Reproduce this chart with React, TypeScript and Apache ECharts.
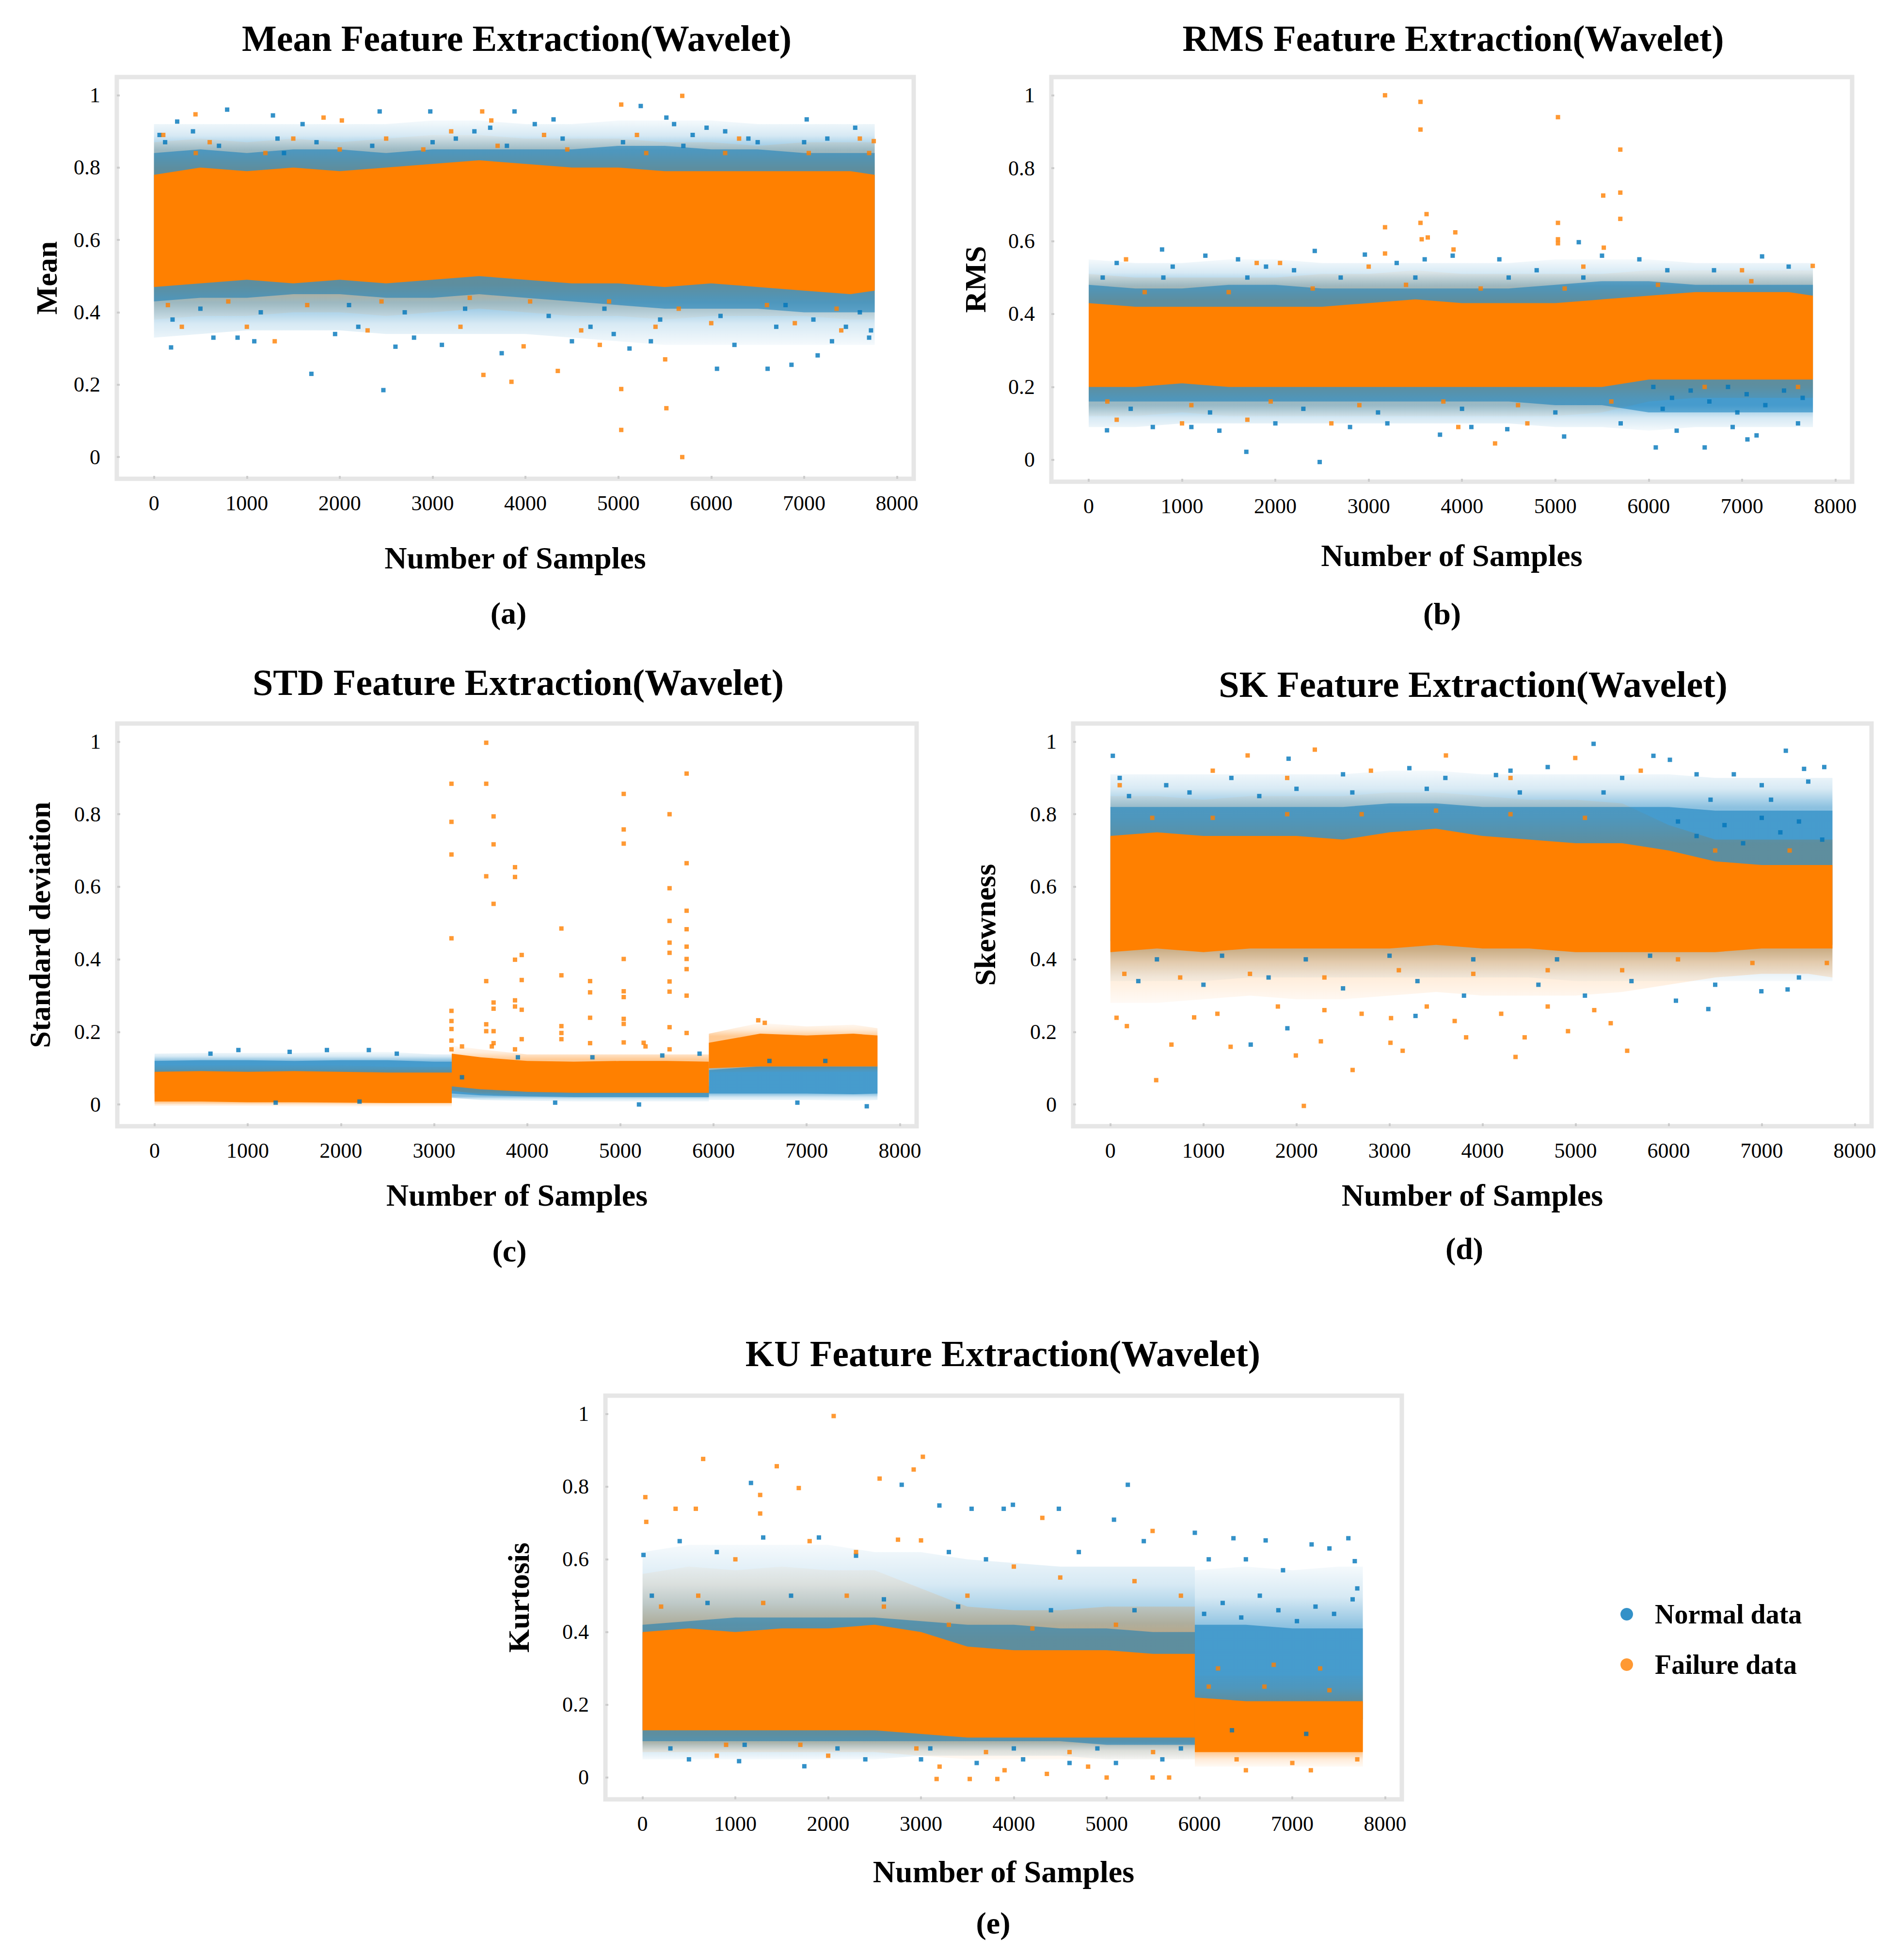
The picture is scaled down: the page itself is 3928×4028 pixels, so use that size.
import React, { useEffect, useRef } from "react";
import * as echarts from "echarts";

const BLUE_RGB = "0,118,186";
const ORANGE_RGB = "255,128,0";
const BLUE = `rgb(${BLUE_RGB})`;
const ORANGE = `rgb(${ORANGE_RGB})`;
const FONT = '"Liberation Serif", "Times New Roman", serif';

const xTickValues = [0, 1000, 2000, 3000, 4000, 5000, 6000, 7000, 8000];
const yTickValues = [0, 0.2, 0.4, 0.6, 0.8, 1];
const seriesNames = ["Normal data", "Failure data"];
const panelTitles = [
  "Mean Feature Extraction(Wavelet)",
  "RMS Feature Extraction(Wavelet)",
  "STD Feature Extraction(Wavelet)",
  "SK Feature Extraction(Wavelet)",
  "KU Feature Extraction(Wavelet)",
];
const yNames = ["Mean", "RMS", "Standard deviation", "Skewness", "Kurtosis"];
const panelLabels = ["(a)", "(b)", "(c)", "(d)", "(e)"];
const xName = "Number of Samples";

// ---------- (a) Mean ----------
const meanX = [0, 500, 1000, 1500, 2000, 2500, 3000, 3500, 4000, 4500, 5000, 5500, 6000, 6500, 7000, 7500, 7760];
const meanRegimes = [[0, 16]];
const meanOrangeCoreHi = [0.78, 0.8, 0.79, 0.8, 0.79, 0.8, 0.81, 0.82, 0.81, 0.8, 0.8, 0.79, 0.79, 0.79, 0.79, 0.79, 0.78];
const meanOrangeCoreLo = [0.47, 0.48, 0.49, 0.48, 0.49, 0.48, 0.49, 0.5, 0.49, 0.48, 0.48, 0.47, 0.48, 0.47, 0.46, 0.45, 0.46];
const meanOrangeHaloHi = [0.87, 0.88, 0.87, 0.88, 0.87, 0.88, 0.89, 0.89, 0.88, 0.88, 0.88, 0.87, 0.87, 0.86, 0.87, 0.87, 0.87];
const meanOrangeHaloLo = [0.38, 0.39, 0.39, 0.4, 0.4, 0.39, 0.4, 0.41, 0.4, 0.39, 0.39, 0.38, 0.39, 0.39, 0.39, 0.38, 0.38];
const meanBlueCoreHi = [0.84, 0.85, 0.84, 0.85, 0.85, 0.84, 0.85, 0.85, 0.85, 0.85, 0.86, 0.86, 0.85, 0.85, 0.84, 0.84, 0.84];
const meanBlueCoreLo = [0.43, 0.44, 0.44, 0.45, 0.45, 0.44, 0.44, 0.45, 0.44, 0.43, 0.42, 0.41, 0.41, 0.41, 0.4, 0.4, 0.4];
const meanBlueHaloHi = [0.92, 0.92, 0.92, 0.92, 0.92, 0.92, 0.93, 0.93, 0.92, 0.92, 0.93, 0.93, 0.93, 0.92, 0.92, 0.92, 0.92];
const meanBlueHaloLo = [0.33, 0.34, 0.35, 0.35, 0.35, 0.34, 0.34, 0.34, 0.34, 0.33, 0.32, 0.31, 0.31, 0.31, 0.31, 0.31, 0.31];
const meanBluePoints = [
  [788, 0.96], [1695, 0.23], [2470, 0.185], [5241, 0.97], [2975, 0.955], [2430, 0.955], [3882, 0.955], [6062, 0.244],
  [6607, 0.244], [6864, 0.255], [7146, 0.281], [7028, 0.933], [5517, 0.938], [250, 0.927], [1281, 0.944], [4302, 0.933],
  [184, 0.303], [3744, 0.287], [60, 0.89], [120, 0.87], [420, 0.9], [640, 0.33], [900, 0.33], [1080, 0.32], [1330, 0.88],
  [1600, 0.92], [1950, 0.34], [2200, 0.36], [2600, 0.305], [2800, 0.33], [3100, 0.31], [3250, 0.88], [3450, 0.9],
  [3620, 0.91], [4100, 0.92], [4500, 0.32], [4700, 0.36], [4950, 0.34], [5120, 0.3], [5350, 0.32], [5600, 0.92],
  [5800, 0.89], [5950, 0.91], [6150, 0.9], [6250, 0.31], [6400, 0.88], [6700, 0.36], [7000, 0.87], [7300, 0.32],
  [7450, 0.36], [7550, 0.91], [7700, 0.33], [7720, 0.35], [200, 0.38], [500, 0.41], [700, 0.86], [1150, 0.4],
  [1400, 0.84], [1750, 0.87], [2100, 0.42], [2350, 0.86], [2700, 0.4], [3000, 0.87], [3350, 0.41], [3800, 0.86],
  [4250, 0.39], [4400, 0.88], [4850, 0.41], [5050, 0.87], [5450, 0.38], [5700, 0.86], [6100, 0.39], [6500, 0.87],
  [6800, 0.42], [7100, 0.38], [7250, 0.88], [7600, 0.4],
];
const meanOrangePoints = [
  [5031, 0.188], [5031, 0.075], [5517, 0.135], [5688, 0.0], [5688, 0.998], [5031, 0.974], [3547, 0.227], [3849, 0.208],
  [4348, 0.238], [5504, 0.27], [447, 0.947], [1826, 0.938], [2023, 0.93], [3534, 0.955], [3632, 0.93], [7750, 0.873],
  [3980, 0.306], [100, 0.89], [300, 0.36], [600, 0.87], [1000, 0.36], [1300, 0.32], [1500, 0.88], [2300, 0.35],
  [2500, 0.88], [3200, 0.9], [3300, 0.36], [4200, 0.89], [4600, 0.35], [4800, 0.31], [5200, 0.89], [5400, 0.36],
  [6000, 0.37], [6300, 0.88], [6900, 0.37], [7400, 0.35], [7600, 0.88], [150, 0.42], [450, 0.84], [800, 0.43],
  [1200, 0.84], [1650, 0.42], [2000, 0.85], [2450, 0.43], [2900, 0.85], [3400, 0.44], [3700, 0.86], [4050, 0.43],
  [4450, 0.85], [4900, 0.43], [5300, 0.84], [5650, 0.41], [6150, 0.84], [6600, 0.42], [7050, 0.84], [7350, 0.41],
  [7700, 0.84],
];

// ---------- (b) RMS ----------
const rmsX = [0, 500, 1000, 1500, 2000, 2500, 3000, 3500, 4000, 4500, 5000, 5500, 6000, 6500, 7000, 7500, 7760];
const rmsRegimes = [[0, 16]];
const rmsOrangeCoreHi = [0.43, 0.42, 0.42, 0.42, 0.42, 0.42, 0.43, 0.44, 0.43, 0.43, 0.43, 0.44, 0.45, 0.46, 0.46, 0.46, 0.45];
const rmsOrangeCoreLo = [0.2, 0.2, 0.21, 0.2, 0.2, 0.2, 0.2, 0.2, 0.2, 0.2, 0.2, 0.2, 0.22, 0.22, 0.22, 0.22, 0.22];
const rmsOrangeHaloHi = [0.51, 0.5, 0.5, 0.5, 0.5, 0.51, 0.51, 0.52, 0.51, 0.51, 0.51, 0.51, 0.52, 0.52, 0.52, 0.52, 0.52];
const rmsOrangeHaloLo = [0.12, 0.12, 0.13, 0.12, 0.12, 0.12, 0.12, 0.12, 0.12, 0.12, 0.12, 0.13, 0.16, 0.17, 0.17, 0.17, 0.17];
const rmsBlueCoreHi = [0.48, 0.47, 0.47, 0.48, 0.48, 0.47, 0.47, 0.47, 0.47, 0.47, 0.48, 0.49, 0.49, 0.48, 0.48, 0.48, 0.48];
const rmsBlueCoreLo = [0.16, 0.16, 0.16, 0.16, 0.16, 0.16, 0.16, 0.16, 0.16, 0.16, 0.15, 0.15, 0.13, 0.13, 0.13, 0.13, 0.13];
const rmsBlueHaloHi = [0.55, 0.54, 0.54, 0.55, 0.55, 0.54, 0.54, 0.54, 0.54, 0.54, 0.55, 0.55, 0.55, 0.54, 0.54, 0.54, 0.54];
const rmsBlueHaloLo = [0.09, 0.09, 0.1, 0.1, 0.1, 0.1, 0.1, 0.1, 0.1, 0.1, 0.09, 0.09, 0.08, 0.09, 0.09, 0.09, 0.09];
const rmsBluePoints = [
  [1689, 0.022], [2475, -0.006], [6076, 0.034], [6600, 0.034], [7058, 0.056], [7156, 0.067], [3764, 0.069],
  [786, 0.577], [5251, 0.597], [7215, 0.558], [2959, 0.563], [2422, 0.573], [196, 0.081], [687, 0.09], [4485, 0.084],
  [5094, 0.064], [300, 0.54], [900, 0.53], [1250, 0.56], [1600, 0.55], [1900, 0.53], [2200, 0.52], [3300, 0.54],
  [3600, 0.55], [3900, 0.56], [4400, 0.55], [4800, 0.52], [5500, 0.56], [5900, 0.55], [6200, 0.52], [6700, 0.52],
  [7500, 0.53], [1100, 0.09], [1400, 0.08], [2000, 0.1], [2800, 0.09], [3200, 0.1], [4100, 0.09], [5700, 0.1],
  [6300, 0.08], [6900, 0.09], [7600, 0.1], [150, 0.5], [450, 0.14], [800, 0.5], [1300, 0.13], [1700, 0.5],
  [2300, 0.14], [2700, 0.5], [3100, 0.13], [3500, 0.5], [4000, 0.14], [4500, 0.5], [5000, 0.13], [5300, 0.5],
  [6050, 0.2], [6250, 0.17], [6450, 0.19], [6650, 0.16], [6850, 0.2], [7050, 0.18], [7250, 0.15], [7450, 0.19],
  [7650, 0.17], [6150, 0.14], [6950, 0.13],
];
const rmsOrangePoints = [
  [3175, 1.0], [3555, 0.982], [3555, 0.906], [3175, 0.638], [3555, 0.65], [3620, 0.674], [3568, 0.605], [3633, 0.61],
  [3928, 0.624], [3909, 0.577], [5028, 0.94], [5028, 0.65], [5028, 0.605], [5028, 0.594], [5513, 0.725], [5696, 0.851],
  [5696, 0.733], [5696, 0.661], [5519, 0.582], [4354, 0.045], [3175, 0.566], [7758, 0.532], [400, 0.55], [1800, 0.54],
  [2050, 0.54], [2600, 0.1], [3000, 0.53], [3960, 0.09], [4700, 0.1], [5300, 0.53], [7000, 0.52], [1000, 0.1],
  [1700, 0.11], [300, 0.11], [200, 0.16], [600, 0.46], [1100, 0.15], [1500, 0.46], [1950, 0.16], [2400, 0.47],
  [2900, 0.15], [3400, 0.48], [3800, 0.16], [4200, 0.47], [4600, 0.15], [5100, 0.47], [5600, 0.16], [6100, 0.48],
  [6600, 0.2], [7100, 0.49], [7600, 0.2],
];

// ---------- (c) STD ----------
const stdX = [0, 500, 1000, 1500, 2000, 2500, 3000, 3190, 3190, 3500, 4000, 4500, 5000, 5500, 5950, 5950, 6500, 7000, 7500, 7760];
const stdRegimes = [[0, 7], [8, 14], [15, 19]];
const stdOrangeCoreHi = [0.09, 0.092, 0.09, 0.092, 0.09, 0.088, 0.088, 0.088, 0.14, 0.13, 0.12, 0.118, 0.12, 0.12, 0.118, 0.17, 0.195, 0.19, 0.195, 0.19];
const stdOrangeCoreLo = [0.008, 0.008, 0.006, 0.006, 0.005, 0.004, 0.004, 0.004, 0.05, 0.042, 0.035, 0.032, 0.032, 0.032, 0.032, 0.1, 0.105, 0.105, 0.105, 0.105];
const stdOrangeHaloHi = [0.108, 0.108, 0.108, 0.108, 0.108, 0.104, 0.104, 0.104, 0.162, 0.152, 0.138, 0.138, 0.138, 0.138, 0.138, 0.195, 0.225, 0.215, 0.22, 0.21];
const stdOrangeHaloLo = [-0.004, -0.004, -0.004, -0.006, -0.006, -0.006, -0.006, -0.006, 0.038, 0.028, 0.022, 0.02, 0.02, 0.02, 0.02, 0.088, 0.09, 0.09, 0.09, 0.09];
const stdBlueCoreHi = [0.12, 0.122, 0.122, 0.12, 0.122, 0.122, 0.118, 0.118, 0.07, 0.06, 0.055, 0.05, 0.05, 0.05, 0.05, 0.095, 0.105, 0.105, 0.105, 0.105];
const stdBlueCoreLo = [0.03, 0.03, 0.03, 0.03, 0.03, 0.03, 0.03, 0.03, 0.03, 0.025, 0.022, 0.02, 0.02, 0.02, 0.02, 0.03, 0.03, 0.03, 0.028, 0.03];
const stdBlueHaloHi = [0.14, 0.142, 0.142, 0.142, 0.145, 0.145, 0.138, 0.138, 0.082, 0.072, 0.066, 0.062, 0.062, 0.062, 0.062, 0.112, 0.122, 0.122, 0.122, 0.12];
const stdBlueHaloLo = [0.016, 0.016, 0.016, 0.016, 0.016, 0.016, 0.016, 0.016, 0.018, 0.012, 0.01, 0.008, 0.008, 0.008, 0.008, 0.012, 0.012, 0.012, 0.01, 0.012];
const stdBluePoints = [
  [7645, -0.005], [900, 0.15], [1850, 0.15], [2300, 0.15], [2600, 0.14], [1450, 0.145], [600, 0.14], [3300, 0.075],
  [3900, 0.13], [4700, 0.13], [5450, 0.135], [5850, 0.14], [6600, 0.12], [7200, 0.12], [1300, 0.005], [2200, 0.008],
  [4300, 0.005], [5200, 0.0], [6900, 0.005],
];
const stdOrangePoints = [
  [3187, 0.884], [3187, 0.779], [3187, 0.689], [3187, 0.458], [3187, 0.258], [3187, 0.23], [3187, 0.208], [3187, 0.176], [3187, 0.152],
  [3560, 0.997], [3560, 0.884], [3560, 0.629], [3560, 0.34], [3560, 0.221], [3560, 0.202],
  [3639, 0.794], [3639, 0.717], [3639, 0.553], [3639, 0.281], [3639, 0.264], [3639, 0.202], [3639, 0.169],
  [3869, 0.654], [3869, 0.627], [3869, 0.399], [3869, 0.287], [3869, 0.27], [3869, 0.152],
  [3941, 0.412], [3941, 0.343], [3941, 0.261], [3941, 0.18],
  [4367, 0.485], [4367, 0.356], [4367, 0.216], [4367, 0.197], [4367, 0.18],
  [4675, 0.34], [4675, 0.309], [4675, 0.239], [4675, 0.169],
  [5036, 0.856], [5036, 0.758], [5036, 0.719], [5036, 0.401], [5036, 0.312], [5036, 0.296], [5036, 0.236], [5036, 0.222], [5036, 0.171],
  [5528, 0.8], [5528, 0.596], [5528, 0.506], [5528, 0.446], [5528, 0.418], [5528, 0.339], [5528, 0.311], [5528, 0.213], [5528, 0.152],
  [5711, 0.912], [5711, 0.665], [5711, 0.534], [5711, 0.483], [5711, 0.435], [5711, 0.401], [5711, 0.373], [5711, 0.3], [5711, 0.197],
  [5250, 0.17], [5270, 0.16], [3300, 0.16], [3620, 0.16], [6480, 0.232], [6550, 0.225],
];

// ---------- (d) SK ----------
const skX = [0, 500, 1000, 1500, 2000, 2500, 3000, 3500, 4000, 4500, 5000, 5500, 6000, 6500, 7000, 7500, 7760];
const skRegimes = [[0, 16]];
const skOrangeCoreHi = [0.74, 0.75, 0.74, 0.74, 0.74, 0.73, 0.75, 0.76, 0.74, 0.73, 0.72, 0.72, 0.7, 0.67, 0.66, 0.66, 0.66];
const skOrangeCoreLo = [0.42, 0.43, 0.42, 0.43, 0.43, 0.43, 0.43, 0.44, 0.43, 0.43, 0.42, 0.42, 0.42, 0.42, 0.43, 0.43, 0.43];
const skOrangeHaloHi = [0.85, 0.85, 0.84, 0.85, 0.85, 0.85, 0.86, 0.86, 0.85, 0.84, 0.84, 0.83, 0.77, 0.73, 0.73, 0.73, 0.73];
const skOrangeHaloLo = [0.28, 0.28, 0.29, 0.3, 0.29, 0.29, 0.3, 0.31, 0.3, 0.3, 0.3, 0.31, 0.33, 0.35, 0.36, 0.36, 0.35];
const skBlueCoreHi = [0.82, 0.82, 0.82, 0.82, 0.82, 0.82, 0.83, 0.83, 0.82, 0.82, 0.82, 0.82, 0.82, 0.81, 0.81, 0.81, 0.81];
const skBlueCoreLo = [0.45, 0.45, 0.44, 0.45, 0.45, 0.45, 0.45, 0.45, 0.45, 0.45, 0.44, 0.44, 0.44, 0.44, 0.44, 0.44, 0.44];
const skBlueHaloHi = [0.91, 0.91, 0.91, 0.91, 0.91, 0.91, 0.92, 0.92, 0.91, 0.91, 0.91, 0.91, 0.91, 0.9, 0.9, 0.9, 0.9];
const skBlueHaloLo = [0.34, 0.34, 0.34, 0.35, 0.35, 0.35, 0.35, 0.35, 0.35, 0.35, 0.34, 0.34, 0.34, 0.34, 0.34, 0.34, 0.34];
const skBluePoints = [
  [26, 0.961], [1915, 0.953], [5193, 0.994], [7259, 0.975], [5836, 0.961], [6013, 0.95], [1902, 0.21], [1508, 0.165],
  [6996, 0.312], [7278, 0.317], [6426, 0.263], [6078, 0.286], [3279, 0.244], [4144, 0.908], [3213, 0.927], [7672, 0.93],
  [7455, 0.925], [100, 0.9], [600, 0.88], [1300, 0.9], [2000, 0.87], [2500, 0.91], [3600, 0.9], [4300, 0.92],
  [4700, 0.93], [5500, 0.9], [6300, 0.91], [6700, 0.91], [7000, 0.88], [7500, 0.89], [300, 0.34], [1000, 0.33],
  [1700, 0.35], [2500, 0.32], [3300, 0.34], [3800, 0.3], [4600, 0.33], [5100, 0.3], [5600, 0.34], [6500, 0.33],
  [7400, 0.35], [200, 0.85], [500, 0.4], [850, 0.86], [1200, 0.41], [1600, 0.85], [2100, 0.4], [2600, 0.86],
  [3000, 0.41], [3400, 0.87], [3900, 0.4], [4400, 0.86], [4800, 0.4], [5300, 0.86], [5800, 0.41], [6100, 0.78],
  [6300, 0.74], [6600, 0.77], [6800, 0.72], [7000, 0.79], [7200, 0.75], [7400, 0.78], [7650, 0.73], [6450, 0.84],
  [7100, 0.84],
];
const skOrangePoints = [
  [492, 0.067], [2079, -0.004], [2197, 0.978], [1475, 0.962], [3606, 0.962], [4996, 0.955], [2603, 0.095], [4354, 0.131],
  [5554, 0.148], [1993, 0.135], [3141, 0.148], [3010, 0.17], [656, 0.165], [1292, 0.159], [2262, 0.174], [66, 0.239],
  [177, 0.216], [5377, 0.224], [3823, 0.185], [4452, 0.185], [4918, 0.202], [3016, 0.238], [900, 0.24], [1150, 0.25],
  [1800, 0.27], [2300, 0.26], [2700, 0.25], [3400, 0.27], [3700, 0.23], [4200, 0.25], [4700, 0.27], [5200, 0.26],
  [100, 0.88], [1100, 0.92], [1900, 0.9], [2800, 0.92], [4300, 0.9], [5700, 0.92], [150, 0.36], [450, 0.79],
  [750, 0.35], [1100, 0.79], [1500, 0.36], [1900, 0.8], [2300, 0.35], [2700, 0.8], [3100, 0.37], [3500, 0.81],
  [3900, 0.36], [4300, 0.8], [4700, 0.37], [5100, 0.79], [5500, 0.37], [6100, 0.4], [6500, 0.7], [6900, 0.39],
  [7300, 0.7], [7700, 0.39],
];

// ---------- (e) KU ----------
const kuX = [0, 500, 1000, 1500, 2000, 2500, 3000, 3500, 4000, 4500, 5000, 5500, 5950, 5950, 6500, 7000, 7500, 7760];
const kuRegimes = [[0, 12], [13, 17]];
const kuOrangeCoreHi = [0.4, 0.41, 0.4, 0.41, 0.41, 0.42, 0.4, 0.36, 0.35, 0.35, 0.35, 0.34, 0.34, 0.22, 0.21, 0.21, 0.21, 0.21];
const kuOrangeCoreLo = [0.13, 0.13, 0.13, 0.13, 0.13, 0.13, 0.12, 0.11, 0.11, 0.11, 0.11, 0.11, 0.11, 0.07, 0.07, 0.07, 0.07, 0.07];
const kuOrangeHaloHi = [0.56, 0.58, 0.57, 0.58, 0.57, 0.57, 0.52, 0.47, 0.46, 0.46, 0.47, 0.47, 0.47, 0.28, 0.28, 0.28, 0.28, 0.28];
const kuOrangeHaloLo = [0.07, 0.07, 0.07, 0.07, 0.07, 0.07, 0.06, 0.05, 0.05, 0.05, 0.05, 0.05, 0.05, 0.03, 0.03, 0.03, 0.03, 0.03];
const kuBlueCoreHi = [0.42, 0.43, 0.44, 0.44, 0.44, 0.44, 0.43, 0.42, 0.42, 0.41, 0.41, 0.4, 0.4, 0.42, 0.42, 0.41, 0.41, 0.41];
const kuBlueCoreLo = [0.1, 0.1, 0.1, 0.1, 0.1, 0.1, 0.1, 0.1, 0.1, 0.1, 0.09, 0.09, 0.09, 0.15, 0.15, 0.16, 0.16, 0.16];
const kuBlueHaloHi = [0.62, 0.64, 0.64, 0.64, 0.64, 0.62, 0.62, 0.6, 0.59, 0.58, 0.58, 0.58, 0.58, 0.57, 0.58, 0.57, 0.58, 0.58];
const kuBlueHaloLo = [0.05, 0.05, 0.05, 0.05, 0.05, 0.05, 0.06, 0.06, 0.06, 0.06, 0.05, 0.05, 0.05, 0.09, 0.09, 0.09, 0.09, 0.09];
const kuBluePoints = [
  [1168, 0.81], [5228, 0.805], [2792, 0.805], [3198, 0.748], [3545, 0.739], [3891, 0.739], [3990, 0.75], [4485, 0.739],
  [5079, 0.709], [5950, 0.673], [6366, 0.658], [6713, 0.652], [7208, 0.641], [7604, 0.658], [7673, 0.595], [1040, 0.045],
  [1743, 0.031], [10, 0.612], [400, 0.65], [800, 0.62], [1300, 0.66], [1900, 0.66], [2300, 0.61], [3300, 0.62],
  [3700, 0.6], [4700, 0.62], [5400, 0.65], [6100, 0.6], [6500, 0.6], [6900, 0.57], [7400, 0.63], [7700, 0.52],
  [500, 0.05], [2400, 0.05], [3000, 0.05], [3600, 0.04], [4100, 0.05], [4600, 0.04], [5100, 0.04], [5600, 0.05],
  [100, 0.5], [300, 0.08], [700, 0.48], [1100, 0.09], [1600, 0.5], [2100, 0.08], [2600, 0.49], [3100, 0.08],
  [3400, 0.47], [4000, 0.08], [4400, 0.46], [4900, 0.08], [5300, 0.46], [5800, 0.08], [6050, 0.45], [6250, 0.48],
  [6450, 0.44], [6650, 0.5], [6850, 0.46], [7050, 0.43], [7250, 0.47], [7450, 0.45], [7650, 0.49], [6350, 0.13],
  [7150, 0.12],
];
const kuOrangePoints = [
  [2059, 0.994], [653, 0.876], [1446, 0.856], [3020, 0.882], [2921, 0.847], [2554, 0.822], [1683, 0.796], [30, 0.771],
  [1267, 0.777], [40, 0.703], [356, 0.739], [574, 0.739], [1267, 0.726], [4307, 0.714], [5495, 0.678], [3168, -0.004],
  [3525, -0.004], [3822, -0.004], [5000, 0.0], [5495, 0.0], [5673, 0.0], [4356, 0.01], [2752, 0.654], [3000, 0.652],
  [1000, 0.6], [1800, 0.65], [2300, 0.62], [3500, 0.5], [4000, 0.58], [4500, 0.55], [5300, 0.54], [5800, 0.5],
  [6200, 0.3], [6800, 0.31], [7300, 0.3], [800, 0.06], [2000, 0.06], [3200, 0.03], [3900, 0.02], [4800, 0.03],
  [6500, 0.02], [7200, 0.02], [200, 0.47], [600, 0.5], [900, 0.09], [1300, 0.48], [1700, 0.09], [2200, 0.5],
  [2600, 0.47], [2950, 0.08], [3300, 0.42], [3700, 0.07], [4200, 0.41], [4600, 0.07], [5100, 0.42], [5500, 0.07],
  [6100, 0.25], [6400, 0.05], [6700, 0.25], [7000, 0.04], [7400, 0.24], [7700, 0.05],
];

const panelData = [
  { x: meanX, reg: meanRegimes, oc: [meanOrangeCoreLo, meanOrangeCoreHi], oh: [meanOrangeHaloLo, meanOrangeHaloHi], bc: [meanBlueCoreLo, meanBlueCoreHi], bh: [meanBlueHaloLo, meanBlueHaloHi], bp: meanBluePoints, op: meanOrangePoints },
  { x: rmsX, reg: rmsRegimes, oc: [rmsOrangeCoreLo, rmsOrangeCoreHi], oh: [rmsOrangeHaloLo, rmsOrangeHaloHi], bc: [rmsBlueCoreLo, rmsBlueCoreHi], bh: [rmsBlueHaloLo, rmsBlueHaloHi], bp: rmsBluePoints, op: rmsOrangePoints },
  { x: stdX, reg: stdRegimes, oc: [stdOrangeCoreLo, stdOrangeCoreHi], oh: [stdOrangeHaloLo, stdOrangeHaloHi], bc: [stdBlueCoreLo, stdBlueCoreHi], bh: [stdBlueHaloLo, stdBlueHaloHi], bp: stdBluePoints, op: stdOrangePoints },
  { x: skX, reg: skRegimes, oc: [skOrangeCoreLo, skOrangeCoreHi], oh: [skOrangeHaloLo, skOrangeHaloHi], bc: [skBlueCoreLo, skBlueCoreHi], bh: [skBlueHaloLo, skBlueHaloHi], bp: skBluePoints, op: skOrangePoints },
  { x: kuX, reg: kuRegimes, oc: [kuOrangeCoreLo, kuOrangeCoreHi], oh: [kuOrangeHaloLo, kuOrangeHaloHi], bc: [kuBlueCoreLo, kuBlueCoreHi], bh: [kuBlueHaloLo, kuBlueHaloHi], bp: kuBluePoints, op: kuOrangePoints },
];

// layout (pixels)
const layouts = [
  { grid: { left: 241, top: 159, width: 1644, height: 829 }, title: [1061, 80], label: [1049, 1265], yGap: 114, xGap: 131 },
  { grid: { left: 2169, top: 159, width: 1652, height: 835 }, title: [2993, 80], label: [2975, 1266], yGap: 126, xGap: 120 },
  { grid: { left: 242, top: 1493, width: 1649, height: 831 }, title: [1064, 1409], label: [1051, 2581], yGap: 129, xGap: 110 },
  { grid: { left: 2214, top: 1493, width: 1647, height: 831 }, title: [3034, 1413], label: [3021, 2576], yGap: 151, xGap: 110 },
  { grid: { left: 1249, top: 2880, width: 1643, height: 833 }, title: [2064, 2794], label: [2049, 3968], yGap: 148, xGap: 117 },
];

const avg = (a: number[]) => a.reduce((s, v) => s + v, 0) / a.length;
const clamp01 = (v: number) => Math.max(0, Math.min(1, v));

// density fade: transparent at the outer edge, peak alpha where the dense core starts
function haloFill(rgb: string, top: number, bottom: number, coreTop: number, coreBot: number, peak: number) {
  const span = top - bottom;
  const t1 = clamp01((top - coreTop) / span);
  const t2 = clamp01(Math.max(t1, (top - coreBot) / span));
  const edge = 0.04;
  return new echarts.graphic.LinearGradient(0, 0, 0, 1, [
    { offset: 0, color: `rgba(${rgb},${edge})` },
    { offset: t1 * 0.5, color: `rgba(${rgb},${peak * 0.35})` },
    { offset: t1, color: `rgba(${rgb},${peak})` },
    { offset: t2, color: `rgba(${rgb},${peak})` },
    { offset: t2 + (1 - t2) * 0.5, color: `rgba(${rgb},${peak * 0.35})` },
    { offset: 1, color: `rgba(${rgb},${edge})` },
  ]);
}

function bandSeries(gi: number, xs: number[], regimes: number[][], lo: number[], hi: number[], styleFor: (s: number, e: number) => any) {
  return {
    type: "custom",
    xAxisIndex: gi,
    yAxisIndex: gi,
    silent: true,
    data: xs.map((x, i) => [x, lo[i], hi[i]]),
    encode: { x: 0, y: [1, 2] },
    renderItem: (params: any, api: any) => {
      if (params.dataIndex !== 0) return null;
      const children = regimes.map(([s, e]) => {
        const pts: number[][] = [];
        for (let i = s; i <= e; i++) pts.push(api.coord([xs[i], hi[i]]));
        for (let i = e; i >= s; i--) pts.push(api.coord([xs[i], lo[i]]));
        return { type: "polygon", shape: { points: pts }, style: styleFor(s, e) };
      });
      return { type: "group", children };
    },
  };
}

function haloSeries(gi: number, xs: number[], regimes: number[][], halo: number[][], core: number[][], rgb: string, peak: number) {
  const [lo, hi] = halo;
  return bandSeries(gi, xs, regimes, lo, hi, (s, e) => {
    const sl = (a: number[]) => a.slice(s, e + 1);
    const top = Math.max(...sl(hi));
    const bottom = Math.min(...sl(lo));
    return { fill: haloFill(rgb, top, bottom, avg(sl(core[1])), avg(sl(core[0])), peak) };
  });
}

function coreSeries(gi: number, xs: number[], regimes: number[][], core: number[][], rgb: string, alpha: number) {
  return bandSeries(gi, xs, regimes, core[0], core[1], () => ({ fill: `rgba(${rgb},${alpha})` }));
}

function buildOption() {
  const grid: any[] = [];
  const xAxis: any[] = [];
  const yAxis: any[] = [];
  const series: any[] = [];
  const title: any[] = [];
  const graphic: any[] = [];
  layouts.forEach((L, gi) => {
    const d = panelData[gi];
    grid.push({ ...L.grid, show: true, borderColor: "#e6e6e6", borderWidth: 9, backgroundColor: "transparent", containLabel: false });
    xAxis.push({
      type: "value", gridIndex: gi, min: -400, max: 8180,
      splitLine: { show: false },
      axisLine: { show: false, onZero: false },
      axisTick: { show: true, inside: true, length: 6, customValues: xTickValues, lineStyle: { color: "#cccccc", width: 4 } },
      axisLabel: { customValues: xTickValues, formatter: (v: number) => String(v), fontSize: 44, color: "#000", fontFamily: FONT, margin: 28 },
      name: xName, nameLocation: "middle", nameGap: L.xGap,
      nameTextStyle: { fontSize: 64, fontWeight: "bold", fontFamily: FONT, color: "#000" },
    });
    yAxis.push({
      type: "value", gridIndex: gi, min: -0.06, max: 1.05,
      splitLine: { show: false },
      axisLine: { show: false, onZero: false },
      axisTick: { show: true, inside: true, length: 6, customValues: yTickValues, lineStyle: { color: "#cccccc", width: 4 } },
      axisLabel: { customValues: yTickValues, formatter: (v: number) => String(v), fontSize: 44, color: "#000", fontFamily: FONT, margin: 34 },
      name: yNames[gi], nameLocation: "middle", nameGap: L.yGap,
      nameTextStyle: { fontSize: 62, fontWeight: "bold", fontFamily: FONT, color: "#000" },
    });
    // sparse fringes first, then the dense blue body, then the dense orange body on top
    series.push(haloSeries(gi, d.x, d.reg, d.bh, d.bc, BLUE_RGB, 0.45));
    series.push(haloSeries(gi, d.x, d.reg, d.oh, d.oc, ORANGE_RGB, 0.42));
    series.push(coreSeries(gi, d.x, d.reg, d.bc, BLUE_RGB, 0.5));
    series.push(coreSeries(gi, d.x, d.reg, d.oc, ORANGE_RGB, 1));
    series.push({
      type: "scatter", name: seriesNames[0], xAxisIndex: gi, yAxisIndex: gi, data: d.bp,
      symbol: "rect", symbolSize: 9, itemStyle: { color: BLUE }, silent: true,
    });
    series.push({
      type: "scatter", name: seriesNames[1], xAxisIndex: gi, yAxisIndex: gi, data: d.op,
      symbol: "rect", symbolSize: 9, itemStyle: { color: ORANGE }, silent: true,
    });
    title.push({
      text: panelTitles[gi], left: L.title[0], top: L.title[1] - 44, textAlign: "center",
      textStyle: { fontSize: 76, fontWeight: "bold", fontFamily: FONT, color: "#000" },
    });
    graphic.push({
      type: "text", x: L.label[0], y: L.label[1],
      style: { text: panelLabels[gi], fontSize: 64, fontWeight: "bold", fontFamily: FONT, fill: "#000", textAlign: "center", textVerticalAlign: "middle" },
    });
  });
  return {
    animation: false,
    backgroundColor: "#ffffff",
    title, grid, xAxis, yAxis, series, graphic,
    legend: {
      orient: "vertical", left: 3338, top: 3298, itemGap: 48, icon: "circle", itemWidth: 26, itemHeight: 26,
      selectedMode: false,
      textStyle: { fontSize: 56, fontWeight: "bold", fontFamily: FONT, color: "#000", padding: [0, 0, 0, 40] },
      data: [
        { name: seriesNames[0], itemStyle: { color: BLUE } },
        { name: seriesNames[1], itemStyle: { color: ORANGE } },
      ],
    },
  };
}

export default function App() {
  const ref = useRef<HTMLDivElement>(null);
  useEffect(() => {
    document.body.style.margin = "0";
    if (!ref.current) return;
    const chart = echarts.init(ref.current, null, { renderer: "svg" });
    chart.setOption(buildOption() as any);
    return () => chart.dispose();
  }, []);
  return <div ref={ref} style={{ width: 3928, height: 4028, background: "#fff" }} />;
}
